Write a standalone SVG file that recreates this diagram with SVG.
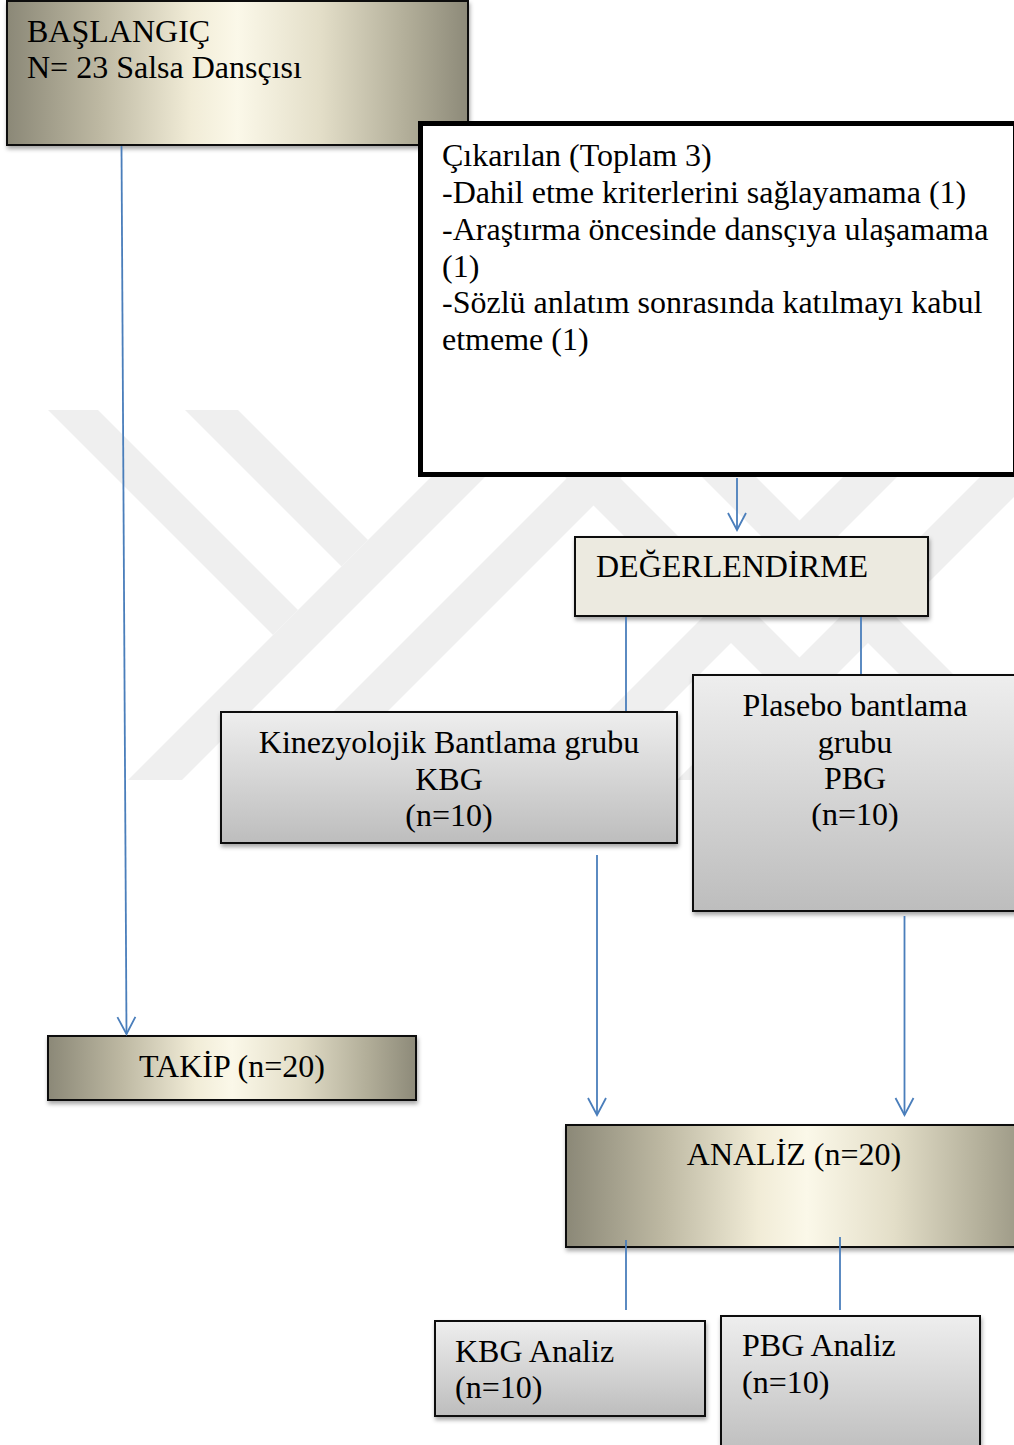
<svg xmlns="http://www.w3.org/2000/svg" width="1014" height="1445" viewBox="0 0 1014 1445">
<defs>
<style>
text{font-family:"Liberation Serif","Times New Roman",serif;font-size:32px;fill:#000}
.mid{text-anchor:middle}
.box{stroke:#111;stroke-width:2}
.con{stroke:#4a7ebb;stroke-width:1.8;fill:none}
.wm{fill:#efefef}
</style>
<linearGradient id="tan" x1="0" y1="0" x2="1" y2="0">
<stop offset="0" stop-color="#8b8877"/>
<stop offset="0.2" stop-color="#bdb8a2"/>
<stop offset="0.4" stop-color="#f1ecd7"/>
<stop offset="0.5" stop-color="#fbf8e9"/>
<stop offset="0.68" stop-color="#e3dec8"/>
<stop offset="0.87" stop-color="#b1ad98"/>
<stop offset="1" stop-color="#8d8a79"/>
</linearGradient>
<linearGradient id="gray" x1="0" y1="0" x2="0" y2="1">
<stop offset="0" stop-color="#eeeeee"/>
<stop offset="1" stop-color="#bdbdbd"/>
</linearGradient>
<filter id="sh" x="-5%" y="-10%" width="110%" height="130%">
<feDropShadow dx="1" dy="3" stdDeviation="2" flood-color="#000" flood-opacity="0.35"/>
</filter>
<marker id="arr" markerUnits="userSpaceOnUse" markerWidth="24" markerHeight="24" refX="0" refY="0" viewBox="-20 -12 24 24" orient="auto" overflow="visible">
<path d="M-17,-9 L0,0 L-17,9" fill="none" stroke="#4a7ebb" stroke-width="1.8"/>
</marker>
<clipPath id="wmclip"><rect x="40" y="410" width="974" height="370"/></clipPath>
</defs>
<rect width="1014" height="1445" fill="#fff"/>
<g id="watermark" clip-path="url(#wmclip)">
<polygon class="wm" points="48,410 98,410 298,610 273,635"/>
<polygon class="wm" points="185,410 238,410 368,540 341.5,566.5"/>
<polygon class="wm" points="498,410 552,410 182,780 128,780"/>
<polygon class="wm" points="635,410 689,410 319,780 265,780"/>
<polygon class="wm" points="910,410 964,410 594,780 540,780"/>
<polygon class="wm" points="1047,410 1101,410 731,780 677,780"/>
<polygon class="wm" points="498,410 552,410 922,780 868,780"/>
<polygon class="wm" points="635,410 689,410 1059,780 1005,780"/>
</g>
<g id="baslangic">
<rect class="box" x="7" y="1" width="461" height="144" fill="url(#tan)" filter="url(#sh)"/>
<text x="27" y="42">BAŞLANGIÇ</text>
<text x="27" y="78">N= 23 Salsa Dansçısı</text>
</g>
<g id="cikarilan">
<rect x="420.5" y="123.5" width="595" height="351" fill="#fff" stroke="#000" stroke-width="5"/>
<text x="442" y="166">Çıkarılan (Toplam 3)</text>
<text x="442" y="203">-Dahil etme kriterlerini sağlayamama (1)</text>
<text x="442" y="240">-Araştırma öncesinde dansçıya ulaşamama</text>
<text x="442" y="277">(1)</text>
<text x="442" y="313">-Sözlü anlatım sonrasında katılmayı kabul</text>
<text x="442" y="350">etmeme (1)</text>
</g>
<g id="degerlendirme">
<rect class="box" x="575" y="537" width="353" height="79" fill="#eceae0" filter="url(#sh)"/>
<text x="596" y="577">DEĞERLENDİRME</text>
</g>
<g id="kbg">
<rect class="box" x="221" y="712" width="456" height="131" fill="url(#gray)" filter="url(#sh)"/>
<text class="mid" x="449" y="753">Kinezyolojik Bantlama grubu</text>
<text class="mid" x="449" y="790">KBG</text>
<text class="mid" x="449" y="826">(n=10)</text>
</g>
<g id="pbg">
<rect class="box" x="693" y="675" width="325" height="236" fill="url(#gray)" filter="url(#sh)"/>
<text class="mid" x="855" y="716">Plasebo bantlama</text>
<text class="mid" x="855" y="753">grubu</text>
<text class="mid" x="855" y="789">PBG</text>
<text class="mid" x="855" y="825">(n=10)</text>
</g>
<g id="takip">
<rect class="box" x="48" y="1036" width="368" height="64" fill="url(#tan)" filter="url(#sh)"/>
<text class="mid" x="232" y="1077">TAKİP (n=20)</text>
</g>
<g id="analiz">
<rect class="box" x="566" y="1125" width="482" height="122" fill="url(#tan)" filter="url(#sh)"/>
<text class="mid" x="794" y="1165">ANALİZ (n=20)</text>
</g>
<g id="kbg-analiz">
<rect class="box" x="435" y="1321" width="270" height="95" fill="url(#gray)" filter="url(#sh)"/>
<text x="455" y="1362">KBG Analiz</text>
<text x="455" y="1398">(n=10)</text>
</g>
<g id="pbg-analiz">
<rect class="box" x="721" y="1316" width="259" height="140" fill="url(#gray)" filter="url(#sh)"/>
<text x="742" y="1356">PBG Analiz</text>
<text x="742" y="1393">(n=10)</text>
</g>
<g id="connectors">
<line class="con" x1="121.5" y1="146" x2="126.5" y2="1034" marker-end="url(#arr)"/>
<line class="con" x1="737" y1="478" x2="737" y2="530" marker-end="url(#arr)"/>
<line class="con" x1="626" y1="617" x2="626" y2="711"/>
<line class="con" x1="861" y1="617" x2="861" y2="674"/>
<line class="con" x1="597" y1="855" x2="597" y2="1115" marker-end="url(#arr)"/>
<line class="con" x1="904.5" y1="916" x2="904.5" y2="1115" marker-end="url(#arr)"/>
<line class="con" x1="626" y1="1240" x2="626" y2="1310"/>
<line class="con" x1="840" y1="1237" x2="840" y2="1310"/>
</g>
</svg>
